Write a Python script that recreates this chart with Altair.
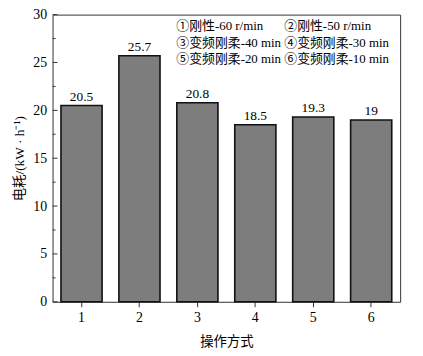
import altair as alt
import pandas as pd

# ---- data ----
modes = ["1", "2", "3", "4", "5", "6"]
power = [20.5, 25.7, 20.8, 18.5, 19.3, 19]
legend_items = [
    "①刚性-60 r/min", "②刚性-50 r/min",
    "③变频刚柔-40 min", "④变频刚柔-30 min",
    "⑤变频刚柔-20 min", "⑥变频刚柔-10 min",
]
y_major = [0, 5, 10, 15, 20, 25, 30]
y_minor = [2.5, 7.5, 12.5, 17.5, 22.5, 27.5]
x_title = "操作方式"
y_title = "电耗/(kW · h⁻¹)"

# ---- layout ----
W, H = 351, 290
FONT = "Liberation Serif, Noto Sans CJK SC, serif"

df = pd.DataFrame({"mode": modes, "power": power,
                   "label": [f"{v:g}" for v in power]})

x_enc = alt.X("mode:O", sort=modes,
              scale=alt.Scale(paddingInner=0.29, paddingOuter=0.145),
              axis=alt.Axis(title=x_title, labelAngle=0, tickSize=5,
                            labelPadding=4, titlePadding=10, domain=False,
                            tickColor="#333"))
y_enc = alt.Y("power:Q", scale=alt.Scale(domain=[0, 30], nice=False),
              axis=alt.Axis(title=y_title, values=y_major, tickSize=0,
                            labelPadding=6, titlePadding=6, domain=False,
                            grid=False))

bars = alt.Chart(df).mark_bar(color="#7d7d7d", stroke="#111",
                              strokeWidth=1.6).encode(x=x_enc, y=y_enc)
vals = alt.Chart(df).mark_text(baseline="bottom", dy=-2, font=FONT,
                               fontSize=13.5, color="black").encode(
    x=alt.X("mode:O", sort=modes), y="power:Q", text="label:N")

major = alt.Chart(pd.DataFrame({"power": y_major})).mark_rule(
    color="#333", strokeWidth=1).encode(
    y="power:Q", x=alt.value(0), x2=alt.value(5))
minor = alt.Chart(pd.DataFrame({"power": y_minor})).mark_rule(
    color="#333", strokeWidth=1).encode(
    y="power:Q", x=alt.value(0), x2=alt.value(3))

# legend-like annotation box (two columns, three rows)
col_x = [125, 234]
row_y = [12, 29, 45]
leg_layers = []
for i, t in enumerate(legend_items):
    leg_layers.append(
        alt.Chart(pd.DataFrame({"t": [t]})).mark_text(
            align="left", baseline="middle", font=FONT, fontSize=13,
            color="black").encode(
            x=alt.value(col_x[i % 2]), y=alt.value(row_y[i // 2]),
            text="t:N"))

chart = alt.layer(bars, vals, major, minor, *leg_layers).properties(
    width=W, height=H,
    autosize=alt.AutoSizeParams(type="none"),
    padding={"left": 45, "top": 5, "right": 15, "bottom": 48},
).configure_view(stroke="#333", strokeWidth=1).configure_axis(
    labelFont=FONT, titleFont=FONT, labelFontSize=14, titleFontSize=13.5,
    titleFontWeight="normal", labelColor="black", titleColor="black",
)

chart.save("out.html", embed_options={"renderer": "svg", "actions": False})
